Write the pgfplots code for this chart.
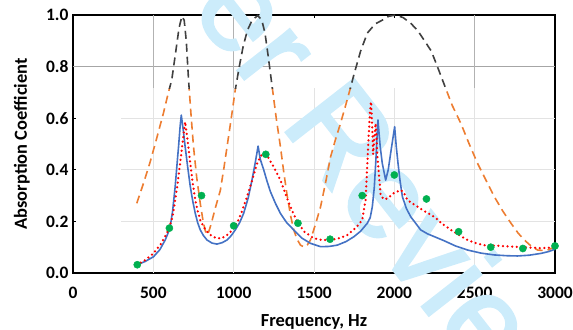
\documentclass[border=0pt]{standalone}
\usepackage{fontspec}
\setmainfont{Carlito}
\newfontfamily\wmfont[FakeBold=2]{Liberation Sans}
\usepackage{pgfplots}
\pgfplotsset{compat=1.18}
\definecolor{exblue}{RGB}{68,114,196}
\definecolor{exorange}{RGB}{237,125,49}
\definecolor{exgreen}{RGB}{0,176,80}
\definecolor{exgray}{RGB}{64,64,64}
\definecolor{wm}{RGB}{204,236,251}

\pgfplotstableread{
x y
397 0.27
440 0.35
480 0.43
520 0.52
563 0.62
590 0.69
615 0.75
640 0.86
660 0.95
678 0.995
692 0.98
705 0.90
719 0.75
735 0.61
750 0.49
770 0.37
792 0.27
810 0.20
823 0.165
832 0.148
845 0.16
860 0.19
885 0.25
917 0.32
940 0.41
959 0.49
985 0.60
1010 0.71
1035 0.80
1058 0.875
1085 0.94
1115 0.98
1150 0.998
1175 0.98
1195 0.93
1215 0.84
1240 0.72
1265 0.60
1291 0.49
1312 0.39
1333 0.30
1355 0.22
1374 0.167
1395 0.13
1416 0.108
1440 0.10
1460 0.11
1478 0.128
1510 0.19
1541 0.257
1572 0.35
1603 0.45
1635 0.52
1665 0.58
1697 0.65
1728 0.72
1749 0.77
1790 0.86
1832 0.93
1880 0.965
1925 0.98
1965 0.995
2008 1.0
2055 0.99
2102 0.968
2145 0.94
2185 0.903
2230 0.86
2268 0.80
2320 0.715
2360 0.65
2414 0.58
2466 0.50
2518 0.425
2570 0.36
2622 0.296
2675 0.24
2726 0.193
2770 0.155
2809 0.128
2850 0.105
2892 0.089
2930 0.087
2960 0.09
3000 0.102
}\dashdata

\pgfplotstableread{
x y
397 0.031
450 0.045
501 0.063
540 0.09
574 0.128
595 0.16
605 0.18
620 0.24
636 0.335
650 0.44
657 0.49
667 0.57
674 0.612
685 0.56
698 0.49
714 0.41
730 0.335
745 0.28
761 0.231
776 0.195
792 0.167
812 0.145
834 0.128
865 0.116
896 0.112
930 0.118
959 0.128
985 0.145
1010 0.167
1037 0.195
1062 0.231
1090 0.29
1114 0.36
1135 0.43
1152 0.492
1166 0.44
1187 0.40
1208 0.355
1229 0.315
1260 0.27
1291 0.231
1330 0.195
1374 0.167
1425 0.135
1478 0.115
1541 0.102
1595 0.103
1645 0.108
1700 0.122
1749 0.141
1790 0.162
1832 0.193
1850 0.215
1863 0.257
1875 0.33
1884 0.425
1898 0.593
1912 0.49
1925 0.425
1946 0.36
1962 0.40
1977 0.464
2002 0.567
2012 0.49
2023 0.425
2035 0.36
2050 0.296
2075 0.25
2102 0.218
2164 0.167
2206 0.152
2310 0.125
2380 0.105
2456 0.089
2540 0.077
2622 0.07
2700 0.067
2767 0.066
2840 0.069
2913 0.076
2960 0.083
3000 0.092
}\bluedata

\pgfplotstableread{
x y
397 0.031
450 0.05
501 0.076
550 0.115
595 0.167
620 0.22
636 0.283
652 0.35
667 0.425
683 0.51
698 0.586
714 0.51
730 0.425
745 0.35
761 0.283
776 0.24
792 0.205
812 0.18
834 0.16
865 0.143
896 0.134
930 0.136
959 0.147
990 0.165
1021 0.193
1052 0.24
1083 0.296
1115 0.36
1146 0.425
1177 0.461
1208 0.455
1250 0.41
1291 0.36
1320 0.31
1353 0.257
1395 0.199
1440 0.16
1499 0.134
1550 0.128
1603 0.128
1660 0.135
1707 0.147
1760 0.175
1800 0.205
1821 0.283
1836 0.477
1848 0.62
1855 0.664
1862 0.57
1868 0.46
1875 0.52
1884 0.58
1895 0.45
1915 0.30
1936 0.285
1960 0.29
1998 0.31
2040 0.322
2060 0.31
2081 0.283
2144 0.257
2200 0.235
2248 0.218
2300 0.19
2352 0.167
2400 0.148
2456 0.128
2510 0.115
2560 0.108
2664 0.105
2740 0.102
2809 0.10
2913 0.096
3000 0.10
}\reddata

\pgfplotstableread{
x y
400 0.032
600 0.174
800 0.30
1000 0.183
1200 0.46
1400 0.193
1600 0.131
1800 0.30
2000 0.38
2200 0.287
2400 0.16
2600 0.10
2800 0.095
3000 0.105
}\greendata

\pgfplotsset{
  base/.style={
    at={(0,0)}, anchor=south west,
    width=482bp, height=258bp, scale only axis,
    xmin=0, xmax=3000, ymin=0, ymax=1,
    clip=false,
  }
}

\begin{document}
\begin{tikzpicture}
% axis 1: frame, grid, ticks, labels
\begin{axis}[
  base,
  xtick={0,500,1000,1500,2000,2500,3000},
  ytick={0,0.2,0.4,0.6,0.8,1},
  /pgf/number format/assume math mode=true,
  /pgf/number format/1000 sep={},
  y tick label style={/pgf/number format/fixed, /pgf/number format/fixed zerofill, /pgf/number format/precision=1},
  ticklabel style={font=\bfseries\fontsize{17.5}{20}\selectfont},
  x tick label style={yshift=-11bp},
  y tick label style={xshift=-1bp},
  tick align=inside,
  major tick length=3bp,
  tick style={black, line width=0.8bp},
  axis line style={black, line width=1.4bp},
  xlabel={Frequency, Hz},
  ylabel={Absorption Coefficient},
  label style={font=\bfseries\fontsize{18.5}{22}\selectfont},
  xlabel style={at={(axis description cs:0.5,-0.19)}, anchor=center},
  ylabel style={at={(axis description cs:-0.106,0.5)}, anchor=center},
]
\foreach \yy in {0.2,0.4,0.6} {
  \edef\tmp{\noexpand\draw[gray!22, line width=0.9bp] (axis cs:300,\yy) -- (axis cs:3000,\yy);}\tmp
}
\foreach \xx in {500,1000,1500,2000,2500} {
  \edef\tmp{\noexpand\draw[gray!22, line width=0.9bp] (axis cs:\xx,0) -- (axis cs:\xx,0.717);}\tmp
}
\draw[gray!70, line width=1bp] (axis cs:0,0.8) -- (axis cs:3000,0.8);
\draw[gray!60, line width=1bp] (axis cs:500,0.717) -- (axis cs:500,1);
\draw[gray!60, line width=1bp] (axis cs:1000,0.717) -- (axis cs:1000,1);
\draw[gray!60, line width=1bp] (axis cs:2500,0.717) -- (axis cs:2500,1);
\end{axis}

% watermark
\begin{scope}
\clip (-73bp,-57bp) rectangle (500bp,273bp);
\node[anchor=base west, rotate=-52, inner sep=0pt, text=wm, font=\wmfont\fontsize{126}{126}\selectfont] at (206.4bp,148.9bp) {Review};
\node[anchor=base east, rotate=-52, inner sep=0pt, text=wm, font=\wmfont\fontsize{126}{126}\selectfont] at (185.2bp,176.1bp) {For Peer};
\end{scope}

% axis 2: data on top
\begin{axis}[base, hide axis]
\begin{scope}
\clip (axis cs:0,-0.05) rectangle (axis cs:3050,0.717);
\addplot[exorange, line width=1.6bp, dash pattern=on 8bp off 5bp] table[x=x,y=y] {\dashdata};
\end{scope}
\begin{scope}
\clip (axis cs:0,0.717) rectangle (axis cs:3050,1.03);
\addplot[exgray, line width=1.6bp, dash pattern=on 8bp off 5bp] table[x=x,y=y] {\dashdata};
\end{scope}
\addplot[exblue, line width=1.6bp, line join=round] table[x=x,y=y] {\bluedata};
\addplot[red, line width=2.5bp, line cap=round, dash pattern=on 0pt off 4.6bp] table[x=x,y=y] {\reddata};
\addplot[only marks, mark=*, mark size=3.6bp, exgreen, mark options={draw=exgreen, fill=exgreen}] table[x=x,y=y] {\greendata};
\end{axis}

\pgfresetboundingbox
\path[use as bounding box] (-73bp,-57bp) rectangle (500bp,273bp);
\end{tikzpicture}
\end{document}
